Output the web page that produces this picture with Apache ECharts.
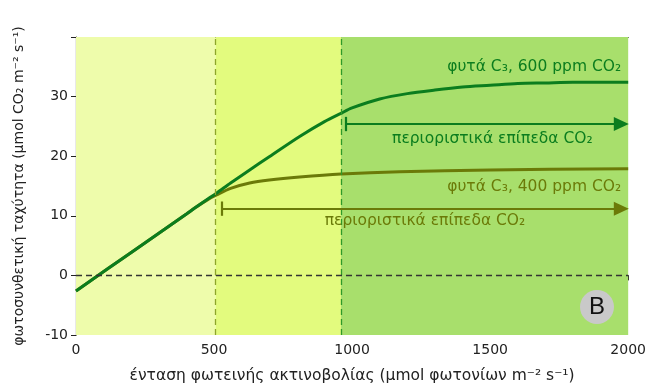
<!DOCTYPE html>
<html>
<head>
<meta charset="utf-8">
<script src="https://cdn.jsdelivr.net/npm/echarts@6/dist/echarts.min.js"></script>
<style>html,body{margin:0;padding:0;background:#fff}#c{width:649px;height:389px}</style>
</head>
<body>
<div id="c"></div>
<script>
// Data
const light = [0, 200, 400, 430, 480, 509, 560, 629, 700, 810, 900, 960, 1000, 1100, 1200, 1300, 1400, 1500, 1600, 1700, 1800, 2000];
const rate600 = [-2.6, 3.85, 10.3, 11.3, 12.9, 13.8, 15.5, 17.7, 19.9, 23.3, 25.8, 27.2, 28.1, 29.6, 30.5, 31.1, 31.6, 31.9, 32.2, 32.3, 32.4, 32.4];
const light400 = [0, 200, 400, 430, 480, 509, 560, 629, 700, 810, 960, 1172, 1500, 2000];
const rate400 = [-2.6, 3.85, 10.3, 11.3, 12.8, 13.5, 14.6, 15.5, 16.0, 16.5, 17.0, 17.4, 17.7, 17.9];
const regionBounds = [0, 505, 960, 2000];
const xTicks = [0, 500, 1000, 1500, 2000];
const yTicks = [-10, 0, 10, 20, 30];
const arrow600 = {from: 976, to: 1975, y: 25.4};
const arrow400 = {from: 528, to: 1975, y: 11.2};

const C600 = '#0b7d1e', C400 = '#6b7a08';
const FONT = 'DejaVu Sans';

const chart = echarts.init(document.getElementById('c'), null, {renderer: 'canvas'});

function arrowLine(a) {
  return [
    [{coord: [a.from, a.y], symbol: 'none'}, {coord: [a.to, a.y], symbol: 'triangle', symbolSize: [14, 15]}],
    [{coord: [a.from, a.y - 1.2], symbol: 'none'}, {coord: [a.from, a.y + 1.2], symbol: 'none'}]
  ];
}

const option = {
  animation: false,
  grid: {left: 76, right: 19, top: 37, bottom: 52},
  xAxis: [{
    type: 'value', min: 0, max: 2000, interval: 500,
    axisLine: {lineStyle: {color: '#222', width: 1.2}},
    axisTick: {length: 5, lineStyle: {color: '#222'}},
    splitLine: {show: false},
    axisLabel: {color: '#222', fontFamily: FONT, fontSize: 14, margin: 8,
      formatter: v => xTicks.includes(v) ? String(v) : ''},
    name: 'ένταση φωτεινής ακτινοβολίας (μmol φωτονίων m⁻² s⁻¹)',
    nameLocation: 'middle', nameGap: 33,
    nameTextStyle: {color: '#222', fontFamily: FONT, fontSize: 15.5}
  }, {
    type: 'value', min: 0, max: 2000, position: 'top',
    axisLine: {show: true, lineStyle: {color: '#222', width: 1.2}},
    axisTick: {show: false}, axisLabel: {show: false}, splitLine: {show: false}
  }],
  yAxis: {
    type: 'value', min: -10, max: 40, interval: 10,
    axisLine: {show: true, lineStyle: {color: '#222', width: 1.2}},
    axisTick: {show: true, length: 5, lineStyle: {color: '#222'}},
    splitLine: {show: false},
    axisLabel: {color: '#222', fontFamily: FONT, fontSize: 14, margin: 8,
      formatter: v => yTicks.includes(v) ? String(v) : ''},
    name: 'φωτοσυνθετική ταχύτητα (μmol CO₂ m⁻² s⁻¹)',
    nameLocation: 'middle', nameGap: 50, nameRotate: 90,
    nameTextStyle: {color: '#222', fontFamily: FONT, fontSize: 14}
  },
  series: [
    {
      type: 'line', data: [], z: 1,
      markArea: {
        silent: true,
        data: [
          [{xAxis: regionBounds[0], itemStyle: {color: '#eefcab'}}, {xAxis: regionBounds[1]}],
          [{xAxis: regionBounds[1], itemStyle: {color: '#e3fb7e'}}, {xAxis: regionBounds[2]}],
          [{xAxis: regionBounds[2], itemStyle: {color: '#a8df6c'}}, {xAxis: regionBounds[3]}]
        ]
      },
      markLine: {
        silent: true, symbol: 'none', label: {show: false},
        data: [
          {xAxis: regionBounds[1], lineStyle: {color: '#8da52a', type: [6, 4], width: 1.3}},
          {xAxis: regionBounds[2], lineStyle: {color: '#2f9a2a', type: [6, 4], width: 1.3}},
          {yAxis: 0, lineStyle: {color: '#333', type: [6, 4], width: 1.3}}
        ]
      }
    },
    {
      name: '400', type: 'line', z: 3, smooth: 0.3, showSymbol: false,
      data: light400.map((x, i) => [x, rate400[i]]),
      lineStyle: {color: C400, width: 3}
    },
    {
      name: '600', type: 'line', z: 4, smooth: 0.3, showSymbol: false,
      data: light.map((x, i) => [x, rate600[i]]),
      lineStyle: {color: C600, width: 3},
      markLine: {
        silent: true, animation: false, label: {show: false},
        lineStyle: {color: C600, width: 2.2, type: 'solid'},
        data: arrowLine(arrow600)
      }
    },
    {
      type: 'line', data: [], z: 3,
      markLine: {
        silent: true, animation: false, label: {show: false},
        lineStyle: {color: C400, width: 2.2, type: 'solid'},
        data: arrowLine(arrow400)
      }
    }
  ]
};
chart.setOption(option);

function px(x, y) { return chart.convertToPixel({gridIndex: 0}, [x, y]); }
const p600lab = px(2000, 35.0);
const p400lab = px(2000, 14.9);
const pA600 = px((arrow600.from + 2000) / 2 + 20, arrow600.y - 2.5);
const pA400 = px((arrow400.from + 2000) / 2, arrow400.y - 2.0);
const tstyle = (color) => ({fontFamily: FONT, fontSize: 15.5, fill: color});
chart.setOption({
  graphic: [
    {type: 'text', x: p600lab[0] - 7, y: p600lab[1], style: Object.assign(tstyle(C600), {text: 'φυτά C₃, 600 ppm CO₂', align: 'right', verticalAlign: 'middle'}), z: 10},
    {type: 'text', x: p400lab[0] - 7, y: p400lab[1], style: Object.assign(tstyle(C400), {text: 'φυτά C₃, 400 ppm CO₂', align: 'right', verticalAlign: 'middle'}), z: 10},
    {type: 'text', x: pA600[0], y: pA600[1], style: Object.assign(tstyle(C600), {text: 'περιοριστικά επίπεδα CO₂', align: 'center', verticalAlign: 'middle'}), z: 10},
    {type: 'text', x: pA400[0], y: pA400[1], style: Object.assign(tstyle(C400), {text: 'περιοριστικά επίπεδα CO₂', align: 'center', verticalAlign: 'middle'}), z: 10},
    {type: 'circle', shape: {cx: 597, cy: 307, r: 17}, style: {fill: '#c9c9c9'}, z: 10},
    {type: 'text', x: 597, y: 307, style: {text: 'B', fontFamily: 'Liberation Sans', fontSize: 24, fill: '#111', align: 'center', verticalAlign: 'middle'}, z: 11}
  ]
});
</script>
</body>
</html>
